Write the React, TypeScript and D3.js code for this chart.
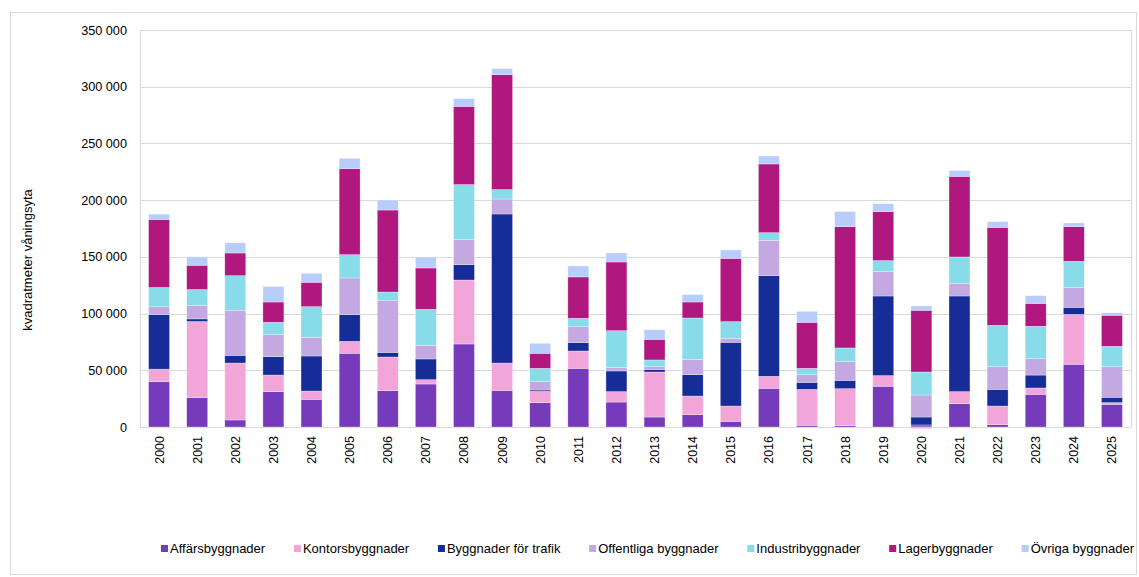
import React, { useEffect, useRef } from "react";
import * as d3 from "d3";

const years = ["2000","2001","2002","2003","2004","2005","2006","2007","2008","2009","2010","2011","2012","2013","2014","2015","2016","2017","2018","2019","2020","2021","2022","2023","2024","2025"];

const seriesNames = ["Affärsbyggnader","Kontorsbyggnader","Byggnader för trafik","Offentliga byggnader","Industribyggnader","Lagerbyggnader","Övriga byggnader"];
const seriesColors = ["#763bbb","#f2a5d9","#162c96","#c3a8e1","#88dbe8","#b0177f","#b9cdfd"];

const affars = [40000,26000,6200,31200,24400,65000,32000,37900,73200,32300,21500,51700,22000,8800,10900,5000,34100,1500,1200,35900,1800,20600,2100,28800,55300,20000];
const kontors = [11000,67000,50200,14600,7300,10500,29700,3800,56400,24100,9900,15300,9200,39700,16400,13500,10600,31700,32600,9400,-1500,10600,16400,5600,44000,1500];
const trafik = [48000,2300,6800,16200,30900,23500,4100,18300,13500,131400,1200,7400,18200,2100,18800,56200,88700,6200,7300,70200,7000,84300,14700,11400,6200,4700];
const offentliga = [7000,11800,39700,19400,16500,32400,45600,12000,22100,13200,7400,14100,3200,2600,13300,3500,31200,6700,16500,21800,19400,11200,20000,14400,17400,27000];
const industri = [17000,14100,30500,10900,27000,20500,7600,31700,48500,8300,11700,7300,32300,5900,36700,14700,6700,5600,12100,9400,20300,23200,36400,28600,23200,17900];
const lager = [60000,21400,20000,17900,21500,75900,72300,36500,69000,101400,13300,36500,60600,18200,14100,55800,60600,40600,106900,43200,54400,71100,86400,20200,30500,27400];
const ovriga = [4700,7400,9100,13800,7900,9100,8800,9700,6800,5200,8800,9700,7900,8500,6500,7400,7000,9700,13300,7000,3800,5300,5000,6800,3300,2300];

const yTicks = [0,50000,100000,150000,200000,250000,300000,350000];
const yTitle = "kvadratmeter våningsyta";

export default function App() {
  const ref = useRef<SVGSVGElement>(null);
  useEffect(() => {
    const svg = d3.select(ref.current);
    svg.selectAll("*").remove();
    const m = { left: 140, right: 1131, top: 30, bottom: 427 };
    const font = "'Liberation Sans', Arial, sans-serif";

    svg.append("rect").attr("x", 10.5).attr("y", 12.5).attr("width", 1126).attr("height", 562)
      .attr("fill", "#fff").attr("stroke", "#d9d9d9").attr("stroke-width", 1);

    const table = years.map((y, i) => {
      const row: any = { year: y };
      const arrs = [affars, kontors, trafik, offentliga, industri, lager, ovriga];
      seriesNames.forEach((s, k) => { row[s] = arrs[k][i]; });
      return row;
    });

    const x = d3.scaleBand().domain(years).range([m.left, m.right]).paddingInner(0.45).paddingOuter(0.225);
    const y = d3.scaleLinear().domain([0, 350000]).range([m.bottom, m.top]);

    const g = svg.append("g");
    g.selectAll("line.grid").data(yTicks).join("line")
      .attr("x1", m.left).attr("x2", m.right)
      .attr("y1", d => Math.round(y(d)) + 0.5).attr("y2", d => Math.round(y(d)) + 0.5)
      .attr("stroke", "#d9d9d9").attr("stroke-width", 1);
    g.append("line").attr("x1", m.left + 0.5).attr("x2", m.left + 0.5).attr("y1", m.top).attr("y2", m.bottom)
      .attr("stroke", "#d9d9d9");
    g.append("line").attr("x1", m.right + 0.5).attr("x2", m.right + 0.5).attr("y1", m.top).attr("y2", m.bottom)
      .attr("stroke", "#d9d9d9");

    const stack = d3.stack<any>().keys(seriesNames).offset(d3.stackOffsetDiverging);
    const layers = stack(table);
    layers.forEach((layer, k) => {
      g.append("g").selectAll("rect").data(layer).join("rect")
        .attr("x", d => x(d.data.year)!)
        .attr("width", x.bandwidth())
        .attr("y", d => y(Math.max(d[0], d[1])))
        .attr("height", d => Math.abs(y(d[0]) - y(d[1])))
        .attr("fill", seriesColors[k])
        .attr("stroke", "#ffffff").attr("stroke-opacity", 0.5).attr("stroke-width", 0.6);
    });

    const fmt = (v: number) => d3.format(",")(v).replace(/,/g, " ");
    g.selectAll("text.yt").data(yTicks).join("text")
      .attr("x", 127).attr("y", d => y(d) + 4.5)
      .attr("text-anchor", "end").attr("font-family", font).attr("font-size", 12.7).attr("fill", "#000")
      .text(d => fmt(d));

    g.selectAll("text.xt").data(years).join("text")
      .attr("transform", d => `translate(${x(d)! + x.bandwidth() / 2 + 4.5},${436}) rotate(-90)`)
      .attr("text-anchor", "end").attr("font-family", font).attr("font-size", 12.5).attr("fill", "#000")
      .text(d => d);

    svg.append("text")
      .attr("transform", `translate(32,${260}) rotate(-90)`)
      .attr("text-anchor", "middle").attr("font-family", font).attr("font-size", 13).attr("fill", "#000")
      .text(yTitle);

    const lg = svg.append("g");
    const items = seriesNames.map((s, k) => {
      const it = lg.append("g");
      it.append("rect").attr("width", 7).attr("height", 7).attr("y", -8).attr("fill", seriesColors[k]);
      const t = it.append("text").attr("x", 9).attr("y", 0).attr("font-family", font).attr("font-size", 13).attr("fill", "#000").text(s);
      const w = 9 + (t.node() as SVGTextElement).getComputedTextLength();
      return { it, w };
    });
    const startX = 161, endX = 1134;
    const total = items.reduce((a, b) => a + b.w, 0);
    const gap = (endX - startX - total) / (items.length - 1);
    let cx = startX;
    items.forEach(({ it, w }) => { it.attr("transform", `translate(${cx},${553})`); cx += w + gap; });
  }, []);
  return <svg ref={ref} width={1139} height={577} style={{ display: "block", position: "absolute", left: 0, top: 0 }} />;
}
